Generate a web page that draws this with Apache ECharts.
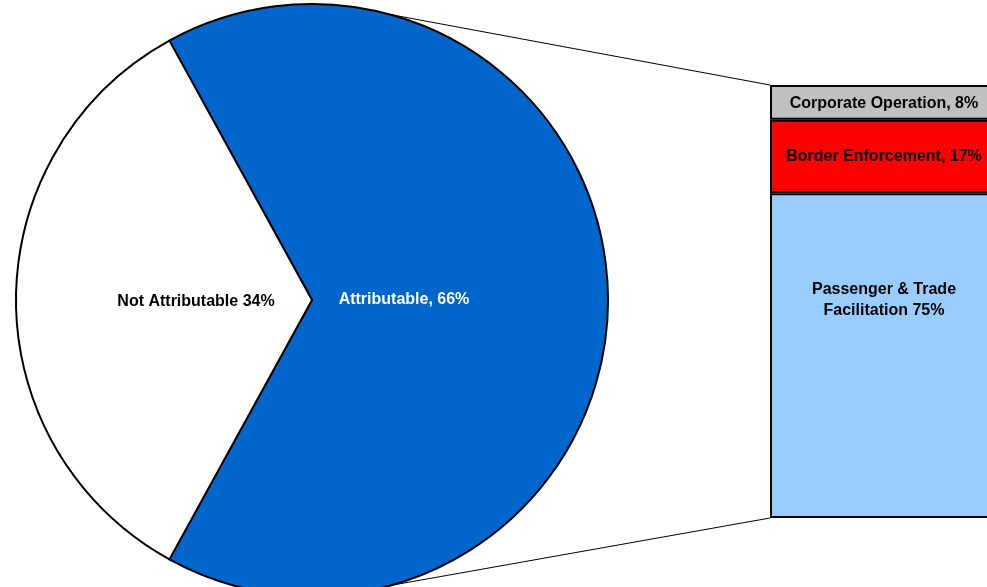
<!DOCTYPE html>
<html>
<head>
<meta charset="utf-8">
<script src="https://cdn.jsdelivr.net/npm/echarts@6/dist/echarts.min.js"></script>
<style>
html, body { margin: 0; padding: 0; background: #fff; }
#main { width: 987px; height: 587px; }
</style>
</head>
<body>
<div id="main"></div>
<script>
// data
var pieNames = ['Attributable, 66%', 'Not Attributable 34%'];
var pieValues = [66, 34];
var barNames = ['Passenger & Trade\nFacilitation 75%', 'Border Enforcement, 17%', 'Corporate Operation, 8%'];
var barValues = [75, 17, 8];

// styles
var pieColors = ['#0066cc', '#ffffff'];
var pieLabelColors = ['#ffffff', '#000000'];
var pieLabelOffsets = [[-59, 0], [35, 2]];
var barColors = ['#99ccff', '#ff0000', '#c0c0c0'];
var barLabelOffsets = [[0, -56], [0, 0], [0, 1]];

var pieCenter = [312, 300];
var pieRadius = 296;
var gridLeft = 770;

var chart = echarts.init(document.getElementById('main'));
var font = { fontFamily: 'Liberation Sans, Arial, sans-serif', fontWeight: 'bold', fontSize: 16 };

var pieData = pieNames.map(function (n, i) {
    return {
        name: n,
        value: pieValues[i],
        itemStyle: { color: pieColors[i] },
        label: { color: pieLabelColors[i], offset: pieLabelOffsets[i] }
    };
});

var barSeries = barNames.map(function (n, i) {
    return {
        type: 'bar',
        name: n,
        stack: 'split',
        barWidth: '100%',
        data: [barValues[i]],
        itemStyle: { color: barColors[i], borderColor: '#000', borderWidth: 2 },
        label: {
            show: true,
            position: 'inside',
            formatter: n,
            color: '#000',
            fontFamily: font.fontFamily,
            fontWeight: font.fontWeight,
            fontSize: font.fontSize,
            lineHeight: 21,
            offset: barLabelOffsets[i]
        },
        emphasis: { disabled: true },
        silent: true
    };
});

var option = {
    animation: false,
    grid: { left: gridLeft, top: 85, width: 228, height: 433, outerBoundsMode: 'none', containLabel: false },
    xAxis: { type: 'category', data: ['Attributable'], show: false },
    yAxis: { type: 'value', min: 0, max: 100, show: false },
    series: [{
        type: 'pie',
        center: pieCenter,
        radius: pieRadius,
        startAngle: 118.8,
        clockwise: true,
        data: pieData,
        itemStyle: { borderColor: '#000', borderWidth: 2 },
        label: {
            show: true,
            position: 'inside',
            rotate: 0,
            formatter: '{b}',
            fontFamily: font.fontFamily,
            fontWeight: font.fontWeight,
            fontSize: font.fontSize
        },
        labelLine: { show: false },
        emphasis: { disabled: true },
        silent: true
    }].concat(barSeries)
};
chart.setOption(option);

// connector lines from pie edge to the split bar corners
var yTop = chart.convertToPixel({ yAxisIndex: 0 }, 100);
var yBottom = chart.convertToPixel({ yAxisIndex: 0 }, 0);
var dx = 78;
var dy = Math.sqrt(pieRadius * pieRadius - dx * dx);
chart.setOption({
    graphic: [
        { type: 'line', z: 10, shape: { x1: pieCenter[0] + dx, y1: pieCenter[1] - dy, x2: gridLeft, y2: yTop }, style: { stroke: '#000', lineWidth: 1 } },
        { type: 'line', z: 10, shape: { x1: pieCenter[0] + dx, y1: pieCenter[1] + dy, x2: gridLeft, y2: yBottom }, style: { stroke: '#000', lineWidth: 1 } }
    ]
});
</script>
</body>
</html>
